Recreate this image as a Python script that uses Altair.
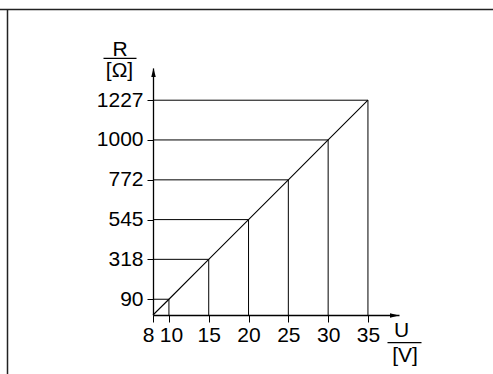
import altair as alt
import pandas as pd

# Voltage / resistance pairs of the characteristic line
voltage = [8, 10, 15, 20, 25, 30, 35]
resistance = [0, 90, 318, 545, 772, 1000, 1227]

# Tick values shown on each axis
x_ticks = [8, 10, 15, 20, 25, 30, 35]
y_ticks = [90, 318, 545, 772, 1000, 1227]

FONT = "Liberation Sans"
FS = 21
W, H = 246, 247
PAD_L, PAD_T = 153, 68
TOTAL_W, TOTAL_H = 493, 374

df = pd.DataFrame({"U": voltage, "R": resistance})
marked = df[df["R"] > 0].copy()
marked["U0"] = voltage[0]
marked["R0"] = resistance[0]

x_scale = alt.Scale(domain=[8, 38.9], nice=False, zero=False)
y_scale = alt.Scale(domain=[0, 1411], nice=False, zero=False)

x_axis = alt.Axis(
    values=x_ticks, title=None, grid=False, format="d",
    domainColor="black", domainWidth=1.3,
    tickColor="black", tickWidth=1, tickSize=7,
    labelFont=FONT, labelFontSize=FS, labelColor="black",
    labelPadding=2, labelOverlap=False, labelFlush=False,
    labelOffset={"expr": "datum.value == 8 ? -5 : (datum.value == 10 ? 2 : 0)"},
)
y_axis = alt.Axis(
    values=y_ticks, title=None, grid=False, format="d",
    domainColor="black", domainWidth=1.3,
    tickColor="black", tickWidth=1, tickSize=6,
    labelFont=FONT, labelFontSize=FS, labelColor="black",
    labelPadding=4, labelOverlap=False, labelFlush=False,
)

base = alt.Chart(df)

# diagonal characteristic
line = base.mark_line(color="black", strokeWidth=1.1).encode(
    x=alt.X("U:Q", scale=x_scale, axis=x_axis),
    y=alt.Y("R:Q", scale=y_scale, axis=y_axis),
)

# horizontal guides from the R axis to the line
hguides = alt.Chart(marked).mark_rule(color="black", strokeWidth=1).encode(
    x=alt.X("U0:Q", scale=x_scale), x2="U:Q",
    y=alt.Y("R:Q", scale=y_scale),
)

# vertical guides from the line down to the U axis
vguides = alt.Chart(marked).mark_rule(color="black", strokeWidth=1).encode(
    x=alt.X("U:Q", scale=x_scale),
    y=alt.Y("R:Q", scale=y_scale), y2="R0:Q",
)

one = alt.Chart(pd.DataFrame({"k": [0]}))

# arrowheads on both axes
arrow_up = one.mark_point(
    shape="M0,0 L-0.25,1 L0.25,1 Z", filled=True, color="black", opacity=1, size=324
).encode(x=alt.value(0.5), y=alt.value(0))
arrow_right = one.mark_point(
    shape="M0,0 L-1,-0.25 L-1,0.25 Z", filled=True, color="black", opacity=1, size=324
).encode(x=alt.value(W), y=alt.value(H + 0.5))

# axis titles written as fractions
def text(t, x, y, align="center"):
    return one.mark_text(
        text=t, font=FONT, fontSize=FS, color="black", align=align, baseline="middle"
    ).encode(x=alt.value(x), y=alt.value(y))

r_num = text("R", 120 - PAD_L, 50 - PAD_T)
r_den = text("[Ω]", 119.5 - PAD_L, 71 - PAD_T)
r_bar = one.mark_rule(color="black", strokeWidth=1.2).encode(
    x=alt.value(103.5 - PAD_L), x2=alt.value(136.5 - PAD_L), y=alt.value(58.3 - PAD_T)
)
u_num = text("U", 401.5 - PAD_L, 330.5 - PAD_T)
u_den = text("[V]", 405 - PAD_L, 356 - PAD_T)
u_bar = one.mark_rule(color="black", strokeWidth=1.2).encode(
    x=alt.value(387.5 - PAD_L), x2=alt.value(421.5 - PAD_L), y=alt.value(342.7 - PAD_T)
)

# frame lines along the top and left edge
frame_top = one.mark_rule(color="#222222", strokeWidth=1.5).encode(
    x=alt.value(-PAD_L), x2=alt.value(TOTAL_W - PAD_L), y=alt.value(9.5 - PAD_T)
)
frame_left = one.mark_rule(color="#222222", strokeWidth=1.5).encode(
    x=alt.value(7.5 - PAD_L), y=alt.value(9.5 - PAD_T), y2=alt.value(TOTAL_H - PAD_T)
)

chart = alt.layer(
    hguides, vguides, line, arrow_up, arrow_right,
    r_num, r_den, r_bar, u_num, u_den, u_bar, frame_top, frame_left,
).properties(
    width=W, height=H,
    autosize=alt.AutoSizeParams(type="none"),
    padding={"left": PAD_L, "top": PAD_T, "right": TOTAL_W - PAD_L - W, "bottom": TOTAL_H - PAD_T - H},
    background="white",
).configure_view(stroke=None)

chart.save("out.html", embed_options={"renderer": "svg", "actions": False})
